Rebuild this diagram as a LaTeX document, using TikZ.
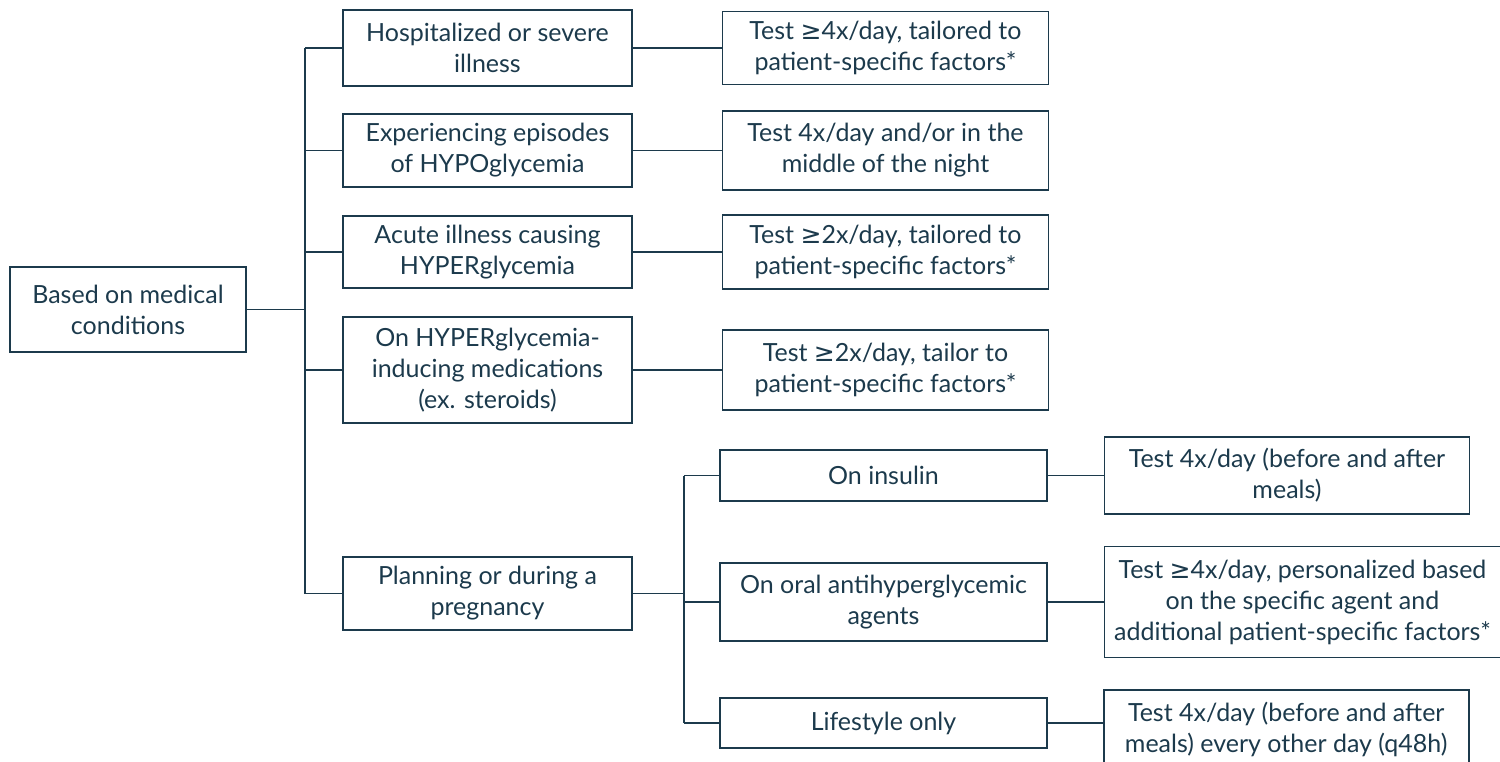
\documentclass[tikz,border=0pt]{standalone}
\usepackage{fontspec}
\setmainfont{Lato}
\newfontfamily\symfont{DejaVu Sans}
\usetikzlibrary{positioning}
\definecolor{navy}{RGB}{28,58,76}
\newcommand{\atleast}{{\symfont ≥}}

\begin{document}
\begin{tikzpicture}[x=1pt, y=-1pt, node distance = 89pt,
	box/.style = {rectangle, draw=navy, line width=1.5pt, text=navy, align=center,
		font=\fontsize{25}{31}\selectfont, inner sep=0pt, minimum width=289pt},
	test/.style = {box, minimum width=326pt},
	sub/.style = {box, minimum width=327pt},
	link/.style = {draw=navy, line width=1.5pt}]

\clip (0,0) rectangle (1500,761);

\node[box, minimum width=236pt, minimum height=85pt] (root) at (128,309.5) {Based on medical\\conditions};

% conditions
\node[box, minimum height=76pt]  (cond1) at (487.5,48)    {Hospitalized or severe\\illness};
\node[box, minimum height=73pt]  (cond2) at (487.5,150.5) {Experiencing episodes\\of HYPOglycemia};
\node[box, minimum height=72pt]  (cond3) at (487.5,252)   {Acute illness causing\\HYPERglycemia};
\node[box, minimum height=106pt] (cond4) at (487.5,370)   {On HYPERglycemia-\\inducing medications\\(ex. steroids)};
\node[box, minimum height=73pt]  (cond5) at (487.5,593.5) {Planning or during a\\pregnancy};

% testing advice
\node[test, minimum height=73pt, right=of cond1] (test1) {Test \atleast4x/day, tailored to\\patient-specific factors*};
\node[test, minimum height=79pt, right=of cond2] (test2) {Test 4x/day and/or in the\\middle of the night};
\node[test, minimum height=74pt, right=of cond3] (test3) {Test \atleast2x/day, tailored to\\patient-specific factors*};
\node[test, minimum height=80pt, right=of cond4] (test4) {Test \atleast2x/day, tailor to\\patient-specific factors*};

% pregnancy
\node[sub, minimum height=51pt] (preg1) at (883.5,475.5) {On insulin};
\node[sub, minimum height=78pt] (preg2) at (883.5,602)   {On oral antihyperglycemic\\agents};
\node[sub, minimum height=50pt] (preg3) at (883.5,723)   {Lifestyle only};

\node[box, minimum width=365pt, minimum height=77pt, right=56pt of preg1] (ptest1) {Test 4x/day (before and after\\meals)};
\node[box, minimum width=396pt, minimum height=111pt, right=56pt of preg2] (ptest2) {Test \atleast4x/day, personalized based\\on the specific agent and\\additional patient-specific factors*};
\node[box, minimum width=365pt, minimum height=80pt, anchor=north west] (ptest3) at (1103,689) {Test 4x/day (before and after\\meals) every other day (q48h)};

% lines
\coordinate (trunk) at (305,0);
\coordinate (split) at (684,0);
\draw[link] (root.east) -- (root.east -| trunk);
\draw[link] (cond1.west -| trunk) -- (cond5.west -| trunk);
\foreach \i in {1,...,5}
	\draw[link] (cond\i.west -| trunk) -- (cond\i.west);
\foreach \i in {1,...,4}
	\draw[link] (cond\i) -- (test\i);
\draw[link] (cond5.east) -- (cond5.east -| split);
\draw[link] (preg1.west -| split) -- (preg3.west -| split);
\foreach \i in {1,2,3}
	\draw[link] (preg\i.west -| split) -- (preg\i.west);
\draw[link] (preg1) -- (ptest1);
\draw[link] (preg2) -- (ptest2);
\draw[link] (preg3.east) -- (preg3.east -| ptest3.west);
\end{tikzpicture}
\end{document}
